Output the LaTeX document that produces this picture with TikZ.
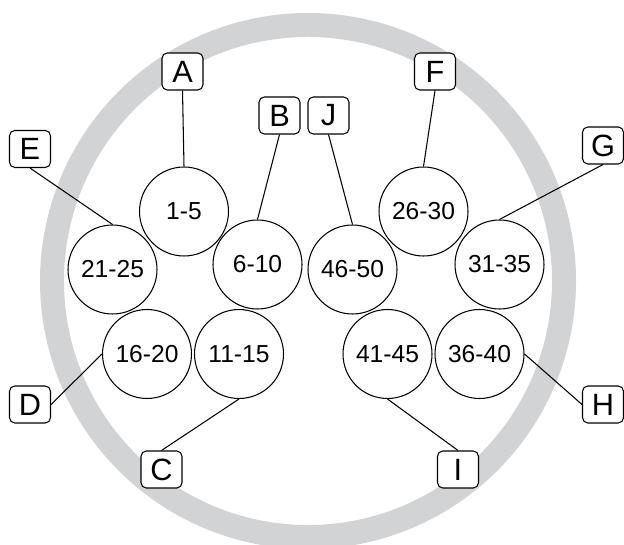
\documentclass[tikz,border=0pt]{standalone}
\usepackage{fontspec}
\setmainfont{Liberation Sans}
\usepackage{tikz}
\definecolor{ringgray}{RGB}{209,211,212}

\begin{document}
\begin{tikzpicture}[x=0.02cm, y=0.02cm,
    grp/.style={circle, draw=black, line width=0.6pt, minimum size=1.78cm, inner sep=0pt,
      font=\fontsize{14}{16}\selectfont},
    tag/.style={rectangle, rounded corners=3pt, draw=black, line width=0.6pt, fill=white,
      minimum width=0.82cm, minimum height=0.74cm, inner sep=0pt,
      font=\fontsize{17.5}{20}\selectfont},
    lead/.style={line width=0.6pt}]
  \useasboundingbox (0,0) rectangle (624,544);
  \clip (0,0) rectangle (624,544);
  % outer ring
  \draw[ringgray, line width=0.48cm] (308,263) circle (256);

  % groups of five
  \node[grp] (g1)  at (184,332.5)   {1-5};
  \node[grp] (g6)  at (257.5,279.5) {6-10};
  \node[grp] (g11) at (239,190)     {11-15};
  \node[grp] (g16) at (147,190)     {16-20};
  \node[grp] (g21) at (112.5,274.5) {21-25};
  \node[grp] (g26) at (423.5,332.5) {26-30};
  \node[grp] (g31) at (499.5,279.5) {31-35};
  \node[grp] (g36) at (479.5,190)   {36-40};
  \node[grp] (g41) at (387.5,190)   {41-45};
  \node[grp] (g46) at (352.5,274.5) {46-50};

  % letter tags
  \node[tag] (tA) at (182.5,472.5) {A};
  \node[tag] (tB) at (279.5,428.5) {B};
  \node[tag] (tC) at (161.5,74.5)  {C};
  \node[tag] (tD) at (30,139.5)    {D};
  \node[tag] (tE) at (30,395)      {E};
  \node[tag] (tF) at (435,472.5)   {F};
  \node[tag] (tG) at (603,398.5)   {G};
  \node[tag] (tH) at (603,139.5)   {H};
  \node[tag] (tI) at (458,74.5)    {I};
  \node[tag] (tJ) at (328.5,428.5) {J};

  % leads
  \draw[lead] (tA.south) -- (g1.north);
  \draw[lead] (tB.south) -- (g6.north);
  \draw[lead] (tC.north) -- (g11.south);
  \draw[lead] (tD.east)  -- (g16.west);
  \draw[lead] (tE.south) -- (g21.north);
  \draw[lead] (tF.south) -- (g26.north);
  \draw[lead] (tG.south) -- (g31.north);
  \draw[lead] (tH.west)  -- (g36.east);
  \draw[lead] (tI.north) -- (g41.south);
  \draw[lead] (tJ.south) -- (g46.north);
\end{tikzpicture}
\end{document}
